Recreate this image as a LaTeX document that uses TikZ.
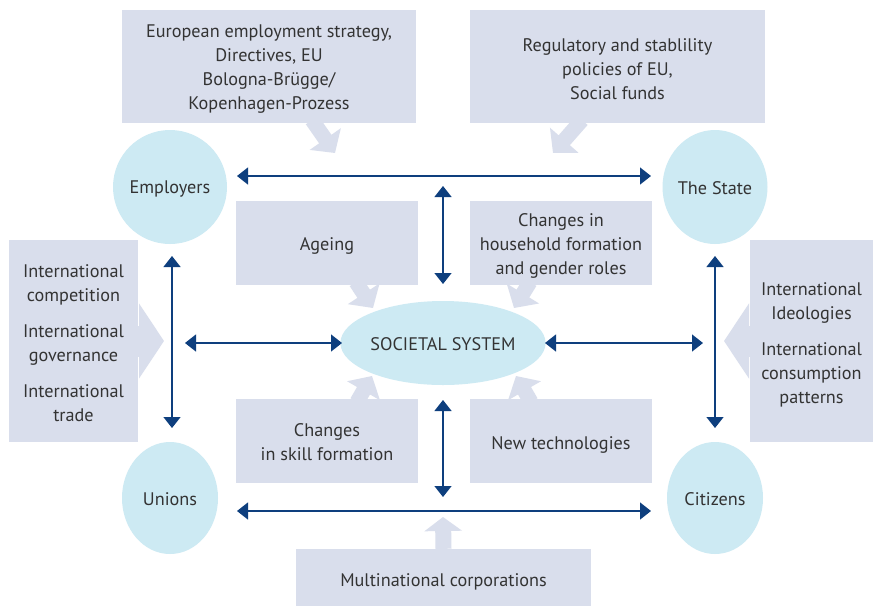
\documentclass[tikz,border=0pt]{standalone}
\usepackage{fontspec}
\setmainfont{PT Sans}
\usetikzlibrary{arrows.meta,shapes.geometric}
\definecolor{boxc}{HTML}{D9DEEC}
\definecolor{ellc}{HTML}{CDEAF3}
\definecolor{navy}{HTML}{0E3F7E}
\definecolor{txt}{HTML}{333333}
\newcommand\up[1]{\rule{0pt}{#1}}
\tikzset{
  box/.style={draw=none,fill=boxc,inner sep=0,align=center,text=txt,font=\fontsize{18.2}{24}\selectfont},
  actor/.style={ellipse,fill=ellc,inner sep=0,text=txt,font=\fontsize{18.2}{24}\selectfont},
  bigarrow/.style={draw=boxc,line width=15pt,-{Triangle[width=37pt,length=17pt]}},
  sidearrow/.style={draw=boxc,line width=31pt,-{Triangle[width=74pt,length=25pt]}},
  dbl/.style={draw=navy,line width=1.3pt,{Triangle[width=17pt,length=11pt]}-{Triangle[width=17pt,length=11pt]}}
}
\begin{document}
\begin{tikzpicture}[x=1pt,y=-1pt]
\useasboundingbox[fill=white] (0,0) rectangle (873,606);
% boxes
\node[box,minimum width=294pt,minimum height=113pt] (eu) at (269,66.5) {\up{17.5pt}European employment strategy,\\Directives, EU\\Bologna-Brügge/\\Kopenhagen-Prozess};
\node[box,minimum width=295pt,minimum height=113pt] (reg) at (617.5,66.5) {\up{17.5pt}Regulatory and stablility\\policies of EU,\\Social funds};
\node[box,minimum width=182pt,minimum height=84pt] (age) at (327,243) {\up{19pt}Ageing};
\node[box,minimum width=182pt,minimum height=84pt] (house) at (561,243) {\up{19.5pt}Changes in\\household formation\\and gender roles};
\node[box,minimum width=182pt,minimum height=84pt] (skill) at (327,441) {\up{15pt}Changes\\in skill formation};
\node[box,minimum width=182pt,minimum height=84pt] (tech) at (561,441) {\up{20pt}New technologies};
\node[box,minimum width=129pt,minimum height=202pt] (intl) at (73.5,341) {\up{17.5pt}International\\competition\\[12pt]International\\governance\\[12pt]International\\trade};
\node[box,minimum width=123pt,minimum height=202pt] (intr) at (811.5,341) {\up{21pt}International\\Ideologies\\[12pt]International\\consumption\\patterns};
\node[box,minimum width=295pt,minimum height=57pt] (multi) at (443.5,577.5) {\up{22pt}Multinational corporations};
% ellipses
\node[actor,minimum width=96pt,minimum height=114pt] (emp) at (170,187) {\up{16pt}Employers};
\node[actor,minimum width=96pt,minimum height=114pt] (state) at (715,187) {\up{16pt}The State};
\node[actor,minimum width=96pt,minimum height=112pt] (unions) at (170,498) {\up{16pt}Unions};
\node[actor,minimum width=96pt,minimum height=112pt] (cit) at (715,498) {\up{16pt}Citizens};
\node[actor,minimum width=190pt,minimum height=84pt] (soc) at (443,343) {\up{16pt}SOCIETAL SYSTEM};
% big light arrows
\coordinate (t1) at (335,153);
\coordinate (t2) at (553,153);
\coordinate (t3) at (373,308);
\coordinate (t4) at (514,308);
\coordinate (t5) at (372,376);
\coordinate (t6) at (516,376);
\coordinate (t7) at (164,341);
\coordinate (t8) at (724,341);
\coordinate (t9) at (443,517);
\draw[bigarrow] (312,120) -- (t1);
\draw[bigarrow] (582,120) -- (t2);
\draw[bigarrow] (356,282) -- (t3);
\draw[bigarrow] (530,282) -- (t4);
\draw[bigarrow] (357,402) -- (t5);
\draw[bigarrow] (531,402) -- (t6);
\draw[sidearrow] (intl.east) -- (t7);
\draw[sidearrow] (intr.west) -- (t8);
\draw[draw=boxc,line width=16pt,-{Triangle[width=37pt,length=14pt]}] (multi.north) -- (t9);
% navy double arrows
\coordinate (a1) at (237,176); \coordinate (a2) at (651,176);
\coordinate (b1) at (237,511); \coordinate (b2) at (651,511);
\coordinate (c1) at (172,256); \coordinate (c2) at (172,428);
\coordinate (d1) at (715,256); \coordinate (d2) at (715,428);
\coordinate (e1) at (443,186); \coordinate (e2) at (443,284);
\coordinate (f1) at (443,400); \coordinate (f2) at (443,497);
\coordinate (g1) at (185,343); \coordinate (g2) at (342,343);
\coordinate (h1) at (545,343); \coordinate (h2) at (703,343);
\draw[dbl] (a1) -- (a2);
\draw[dbl] (b1) -- (b2);
\draw[dbl] (c1) -- (c2);
\draw[dbl] (d1) -- (d2);
\draw[dbl] (e1) -- (e2);
\draw[dbl] (f1) -- (f2);
\draw[dbl] (g1) -- (g2);
\draw[dbl] (h1) -- (h2);
\end{tikzpicture}
\end{document}
